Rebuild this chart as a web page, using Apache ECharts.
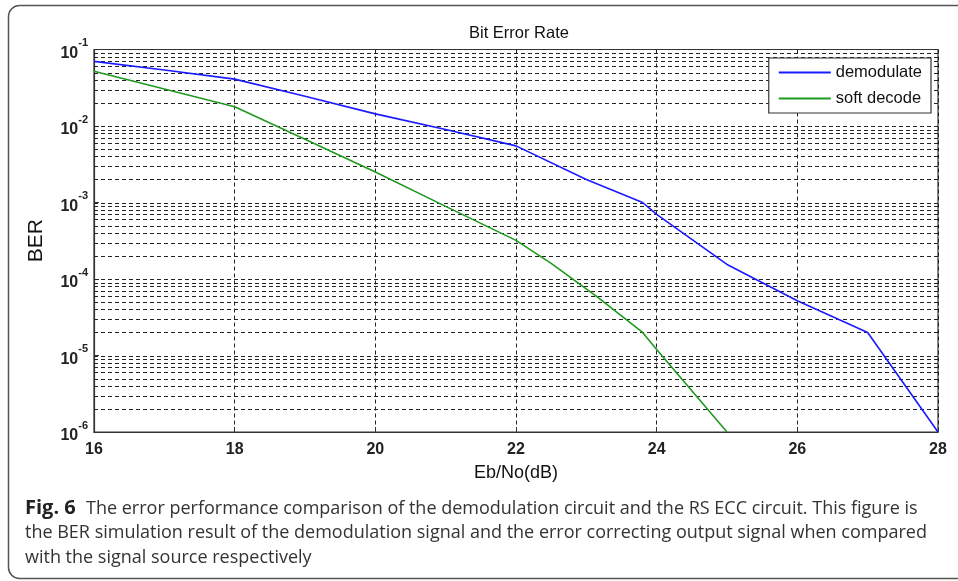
<!DOCTYPE html>
<html>
<head>
<meta charset="utf-8">
<script src="https://cdn.jsdelivr.net/npm/echarts@6/dist/echarts.min.js"></script>
<style>
html,body{margin:0;padding:0;background:#fff;}
#chart{width:958px;height:581px;}
</style>
</head>
<body>
<div id="chart"></div>
<script>
// ---- data ----
var ebno_demod = [16, 17, 18, 19, 20, 21, 22, 23, 23.8, 24, 25, 26, 27, 28];
var ber_demod  = [0.070, 0.054, 0.041, 0.0245, 0.0144, 0.0090, 0.0055, 0.0020, 0.0010, 0.00070, 0.000155, 0.000052, 0.000020, 0.000001];
var ebno_soft  = [16, 17, 18, 19, 20, 21, 22, 22.5, 23.15, 23.8, 24, 25];
var ber_soft   = [0.052, 0.0305, 0.0179, 0.0067, 0.0025, 0.00089, 0.00032, 0.00016, 0.000059, 0.000020, 0.000012, 0.000001];
var seriesNames = ['demodulate', 'soft decode'];
var xTicks = [16, 18, 20, 22, 24, 26, 28];
var decades = [1e-6, 1e-5, 1e-4, 1e-3, 1e-2];
var minorMultipliers = [1, 2, 3, 4, 5, 6, 7, 8, 9];
var captionBold = 'Fig. 6';
var captionLines = [
  'The error performance comparison of the demodulation circuit and the RS ECC circuit. This figure is',
  'the BER simulation result of the demodulation signal and the error correcting output signal when compared',
  'with the signal source respectively'
];

function pairs(xs, ys){ return xs.map(function(x,i){ return [x, ys[i]]; }); }
var gridValues = [];
decades.forEach(function(d){ minorMultipliers.forEach(function(m){ if (!(d === 1e-6 && m === 1)) gridValues.push([xTicks[0], m*d]); }); });

var chart = echarts.init(document.getElementById('chart'));
var font = 'Liberation Sans, Arial, sans-serif';
var capFont = 'Open Sans, sans-serif';

var option = {
  animation: false,
  backgroundColor: '#fff',
  title: {
    text: 'Bit Error Rate', left: 514, top: 20, textAlign: 'center',
    textStyle: {fontFamily: font, fontSize: 16.5, fontWeight: 'normal', color: '#111'}
  },
  grid: {left: 94, right: 20, top: 49.5, bottom: 149, show: true, borderColor: '#333', borderWidth: 1.2, backgroundColor: 'transparent'},
  legend: {
    data: seriesNames, orient: 'vertical', right: 27, top: 58,
    backgroundColor: '#fff', borderColor: '#333', borderWidth: 1.2,
    padding: [6, 9, 6, 10], itemGap: 9, itemWidth: 52, itemHeight: 2,
    icon: 'rect',
    textStyle: {fontFamily: font, fontSize: 16.5, color: '#111'}
  },
  xAxis: {
    type: 'value', min: 16, max: 28, interval: 2,
    name: 'Eb/No(dB)', nameLocation: 'middle', nameGap: 32,
    nameTextStyle: {fontFamily: font, fontSize: 18, color: '#111'},
    axisLine: {show: true, onZero: false, lineStyle: {color: '#333', width: 1.2}},
    axisTick: {show: true, inside: true, length: 5, lineStyle: {color: '#333'}},
    axisLabel: {fontFamily: font, fontSize: 16, fontWeight: 'bold', color: '#222', margin: 10,
      formatter: function(v){ return xTicks.indexOf(v) >= 0 ? String(v) : ''; }},
    splitLine: {show: true, lineStyle: {color: '#222', type: [4, 3], width: 1}}
  },
  yAxis: {
    type: 'log', logBase: 10, min: 1e-6, max: 1e-1,
    name: 'BER', nameLocation: 'middle', nameGap: 47, nameRotate: 90,
    nameTextStyle: {fontFamily: font, fontSize: 21, color: '#111'},
    axisLine: {show: true, lineStyle: {color: '#333', width: 1.2}},
    axisTick: {show: true, inside: true, length: 5, lineStyle: {color: '#333'}},
    axisLabel: {
      margin: 6,
      formatter: function(v){ var e = Math.round(Math.log10(v)); return '{b|10}{s|' + e + '}'; },
      rich: {
        b: {fontFamily: font, fontSize: 16, fontWeight: 'bold', color: '#222', padding: [8,0,0,0]},
        s: {fontFamily: font, fontSize: 11, fontWeight: 'bold', color: '#222', verticalAlign: 'top', padding: [0,0,6,0]}
      }
    },
    splitLine: {show: false}
  },
  graphic: [
    {type: 'rect', shape: {x: 8.5, y: 5.5, width: 960, height: 573, r: 11}, style: {fill: 'none', stroke: '#555', lineWidth: 1.5}, z: -1, silent: true},
    {type: 'text', left: 25, top: 498, style: {text: captionBold, font: 'bold 20px ' + capFont, fill: '#222'}},
    {type: 'text', left: 86, top: 500, style: {text: captionLines[0], font: '18px ' + capFont, fill: '#333'}},
    {type: 'text', left: 25, top: 524, style: {text: captionLines[1], font: '18px ' + capFont, fill: '#333'}},
    {type: 'text', left: 25, top: 549, style: {text: captionLines[2], font: '18px ' + capFont, fill: '#333'}}
  ],
  series: [
    {
      name: 'grid', type: 'custom', silent: true, z: 1, clip: true,
      data: gridValues, encode: {x: 0, y: 1},
      renderItem: function(params, api){
        var v = api.value(1);
        var p1 = api.coord([xTicks[0], v]);
        var p2 = api.coord([xTicks[xTicks.length-1], v]);
        return {type: 'line', shape: {x1: p1[0], y1: Math.round(p1[1]) + 0.5, x2: p2[0], y2: Math.round(p2[1]) + 0.5},
          style: {stroke: '#222', lineWidth: 1, lineDash: [4, 3]}};
      }
    },
    {name: seriesNames[0], type: 'line', data: pairs(ebno_demod, ber_demod), showSymbol: false, symbol: 'none', z: 3,
      lineStyle: {color: '#1a1aff', width: 1.6}, itemStyle: {color: '#1a1aff'}},
    {name: seriesNames[1], type: 'line', data: pairs(ebno_soft, ber_soft), showSymbol: false, symbol: 'none', z: 3,
      lineStyle: {color: '#1f9a1f', width: 1.6}, itemStyle: {color: '#1f9a1f'}}
  ]
};
chart.setOption(option);
</script>
</body>
</html>
